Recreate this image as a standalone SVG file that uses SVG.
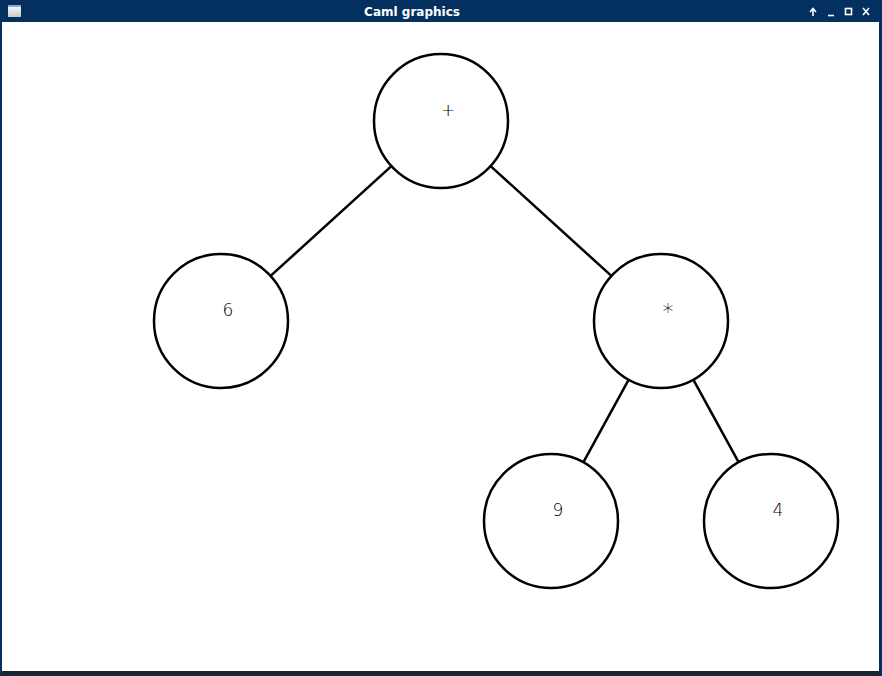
<svg xmlns="http://www.w3.org/2000/svg" width="882" height="676" viewBox="0 0 882 676">
  <style>
    .node circle { fill: #ffffff; stroke: #000000; stroke-width: 2.5; }
    .node text { font-family: "DejaVu Sans", "Liberation Sans", sans-serif; font-size: 17px; font-weight: 300; fill: #000000; text-anchor: middle; }
    .node text.star { font-size: 22px; }
    .edges line { stroke: #000000; stroke-width: 2.5; }
    .title { font-family: "DejaVu Sans", "Liberation Sans", sans-serif; font-size: 12px; font-weight: bold; fill: #ffffff; text-anchor: middle; }
    .btn { stroke: #ffffff; stroke-width: 1.6; fill: none; }
  </style>
  <defs>
    <linearGradient id="iconGrad" x1="0" y1="0" x2="0" y2="1">
      <stop offset="0" stop-color="#ffffff"/>
      <stop offset="1" stop-color="#c8c8c8"/>
    </linearGradient>
  </defs>
  <!-- window frame -->
  <rect x="0" y="0" width="882" height="676" fill="#04305f"/>
  <rect x="2" y="22" width="877" height="650" fill="#ffffff"/>
  <rect x="2" y="671" width="877" height="4" fill="#222222"/>
  <!-- title bar -->
  <g id="titlebar">
    <rect x="8" y="5" width="13" height="12" fill="url(#iconGrad)"/>
    <rect x="8" y="5" width="13" height="2" fill="#8aa8d8"/>
    <text class="title" x="412" y="16">Caml graphics</text>
    <path class="btn" d="M813 16 V9 M810 12 L813 8.5 L816 12" />
    <path class="btn" d="M828 15.5 H834" />
    <rect class="btn" x="845.5" y="8.5" width="6" height="6" />
    <path class="btn" d="M863 8 L869 15 M869 8 L863 15" />
  </g>
  <!-- connectors -->
  <g id="edges" class="edges">
    <line x1="391.4" y1="166.1" x2="270.6" y2="275.9"/>
    <line x1="490.6" y1="166.1" x2="611.4" y2="275.9"/>
    <line x1="628.7" y1="379.7" x2="583.3" y2="462.3"/>
    <line x1="693.3" y1="379.7" x2="738.7" y2="462.3"/>
  </g>
  <!-- nodes -->
  <g id="node-plus" class="node">
    <circle cx="441" cy="121" r="67"/>
    <text x="448" y="116">+</text>
  </g>
  <g id="node-6" class="node">
    <circle cx="221" cy="321" r="67"/>
    <text x="228" y="316">6</text>
  </g>
  <g id="node-times" class="node">
    <circle cx="661" cy="321" r="67"/>
    <text class="star" x="668" y="319">*</text>
  </g>
  <g id="node-9" class="node">
    <circle cx="551" cy="521" r="67"/>
    <text x="558" y="516">9</text>
  </g>
  <g id="node-4" class="node">
    <circle cx="771" cy="521" r="67"/>
    <text x="778" y="516">4</text>
  </g>
</svg>
